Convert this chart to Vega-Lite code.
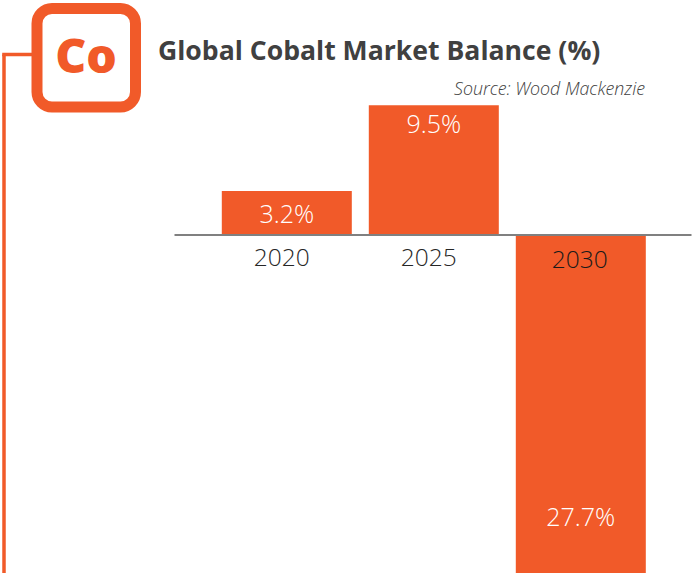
{
  "$schema": "https://vega.github.io/schema/vega-lite/v6.json",
  "width": 692,
  "height": 573,
  "autosize": "none",
  "padding": 0,
  "background": "white",
  "view": {"stroke": null},
  "title": {"text": "Global Cobalt Market Balance (%)", "anchor": "start", "frame": "group", "offset": 0, "dx": 158, "dy": 87, "baseline": "alphabetic", "font": "Open Sans", "fontSize": 26.6, "fontWeight": 700, "color": "#404040"},
  "data": {"values": [
    {"year": "2020", "balance": 3.2, "label": "3.2%"},
    {"year": "2025", "balance": 9.5, "label": "9.5%"},
    {"year": "2030", "balance": -27.7, "label": "27.7%"}
  ]},
  "encoding": {
    "x": {"field": "year", "type": "nominal", "title": null,
      "scale": {"range": [174, 691], "paddingInner": 0.1156, "paddingOuter": 0.3163, "align": 0.514},
      "axis": {"orient": "bottom", "offset": -338.5, "zindex": 1, "domainColor": "#808080", "domainWidth": 2, "ticks": false, "labels": false}},
    "y": {"field": "balance", "type": "quantitative", "title": null,
      "scale": {"domain": [-24.89, 17.24], "nice": false, "zero": false, "range": [573, 0]},
      "axis": null}
  },
  "layer": [
    {"mark": {"type": "bar", "color": "#F15A29", "clip": true, "orient": "vertical"}},
    {"transform": [{"filter": "datum.year != '2030'"}],
     "mark": {"type": "text", "font": "Open Sans", "fontWeight": 300, "fontSize": 24.5, "color": "#262626", "dx": -5, "dy": 25, "baseline": "middle"},
     "encoding": {"y": {"datum": 0}, "text": {"field": "year"}}},
    {"transform": [{"filter": "datum.year == '2030'"}],
     "mark": {"type": "text", "font": "Open Sans", "fontWeight": 300, "fontSize": 24.5, "color": "#1A1A1A", "dx": -1, "dy": 27, "baseline": "middle"},
     "encoding": {"y": {"datum": 0}, "text": {"field": "year"}}},
    {"transform": [{"filter": "datum.year == '2020'"}],
     "mark": {"type": "text", "font": "Open Sans", "fontWeight": 300, "fontSize": 25, "color": "#FFFFFF", "dy": 24, "baseline": "middle"},
     "encoding": {"text": {"field": "label"}}},
    {"transform": [{"filter": "datum.year == '2025'"}],
     "mark": {"type": "text", "font": "Open Sans", "fontWeight": 300, "fontSize": 25, "color": "#FFFFFF", "dy": 19.5, "baseline": "middle"},
     "encoding": {"text": {"field": "label"}}},
    {"transform": [{"filter": "datum.year == '2030'"}],
     "mark": {"type": "text", "font": "Open Sans", "fontWeight": 300, "fontSize": 25, "color": "#FFFFFF", "dy": -93, "baseline": "middle"},
     "encoding": {"text": {"field": "label"}}},
    {"data": {"values": [{"t": "Source: Wood Mackenzie"}]},
     "mark": {"type": "text", "font": "Open Sans", "fontStyle": "italic", "fontWeight": 300, "fontSize": 17.8, "color": "#404040", "align": "right", "baseline": "alphabetic"},
     "encoding": {"x": {"value": 645}, "y": {"value": 95}, "text": {"field": "t"}}},
    {"data": {"values": [{"t": "logo"}]},
     "mark": {"type": "rule", "color": "#F15A29", "strokeWidth": 3.5},
     "encoding": {"x": {"value": 4}, "y": {"value": 54.5}, "y2": {"value": 573}}},
    {"data": {"values": [{"t": "logo"}]},
     "mark": {"type": "rule", "color": "#F15A29", "strokeWidth": 3.5},
     "encoding": {"x": {"value": 2.2}, "x2": {"value": 34}, "y": {"value": 54.5}}},
    {"data": {"values": [{"t": "logo"}]},
     "mark": {"type": "rect", "fill": "#FFFFFF", "stroke": "#F15A29", "strokeWidth": 11, "cornerRadius": 15},
     "encoding": {"x": {"value": 37}, "x2": {"value": 135.5}, "y": {"value": 8.5}, "y2": {"value": 107}}},
    {"data": {"values": [{"t": "Co"}]},
     "mark": {"type": "text", "font": "Open Sans", "fontWeight": 800, "fontSize": 48, "color": "#F15A29", "align": "center", "baseline": "alphabetic"},
     "encoding": {"x": {"value": 86}, "y": {"value": 73}, "text": {"field": "t"}}}
  ]
}
